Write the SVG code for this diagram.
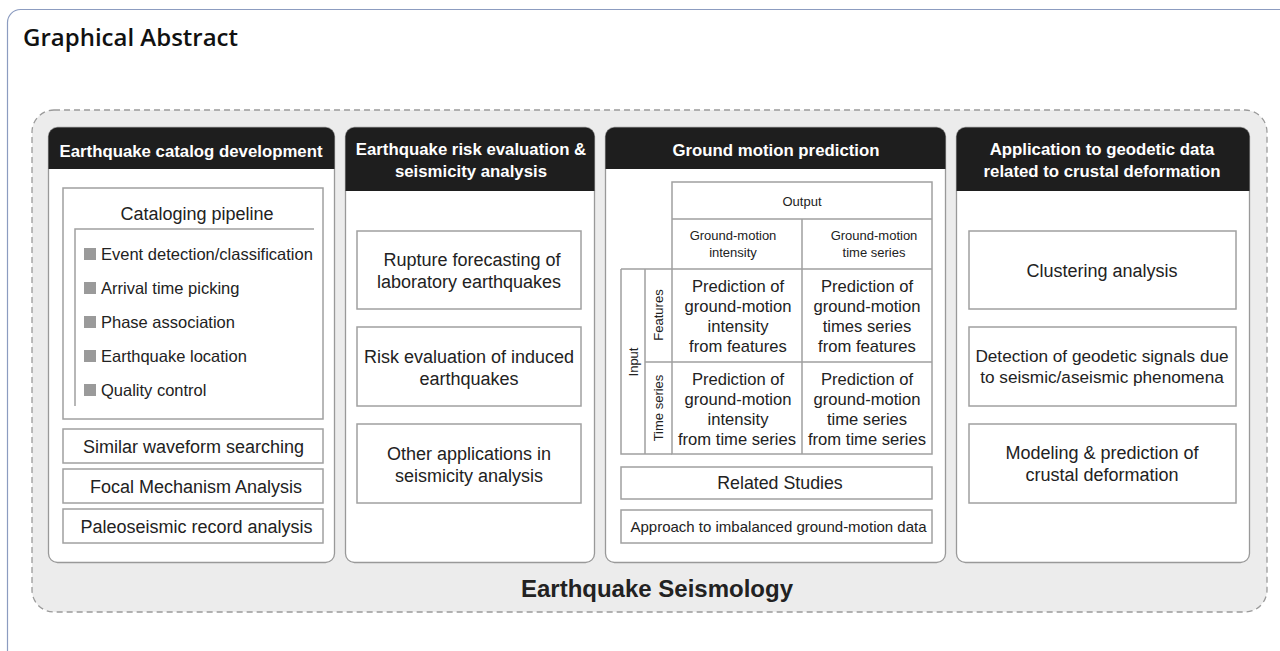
<svg xmlns="http://www.w3.org/2000/svg" width="1280" height="651" viewBox="0 0 1280 651">
<style>
.t{font-family:"Liberation Sans",Arial,sans-serif;fill:#222;}
.h{font-family:"Liberation Sans",Arial,sans-serif;fill:#fff;font-weight:bold;font-size:16.8px;}
.box{fill:#fff;stroke:#a0a0a0;stroke-width:1.5;}
.col{fill:#fff;stroke:#999;stroke-width:1.3;}
.hd{fill:#1e1e1e;}
.sq{fill:#9a9a9a;}
.ln{stroke:#a0a0a0;stroke-width:1.5;fill:none;}
</style>
<rect width="1280" height="651" fill="#fff"/>
<rect x="7.5" y="9.5" width="1290" height="660" rx="13" fill="#fff" stroke="#8c9cc0" stroke-width="1.2"/>
<text x="23" y="46" font-family="'Open Sans',sans-serif" font-weight="600" font-size="24" fill="#111">Graphical Abstract</text>
<rect x="32" y="110" width="1235" height="502" rx="22" fill="#ececec" stroke="#9a9a9a" stroke-width="1.3" stroke-dasharray="6,4"/>

<g id="col1">
<rect class="col" x="48.5" y="127.5" width="286" height="435" rx="9"/>
<path class="hd" d="M48.5,169 V136.5 a9,9 0 0 1 9,-9 H325.5 a9,9 0 0 1 9,9 V169 Z"/>
<text class="h" x="191" y="157" text-anchor="middle" font-size="17">Earthquake catalog development</text>
<rect class="box" x="63" y="188" width="260" height="231"/>
<text class="t" x="197" y="220" font-size="18" text-anchor="middle">Cataloging pipeline</text>
<path class="ln" d="M314,229 H75 V406"/>
<g font-size="16.5">
<rect class="sq" x="84" y="248" width="12" height="12"/><text class="t" x="101" y="260">Event detection/classification</text>
<rect class="sq" x="84" y="282" width="12" height="12"/><text class="t" x="101" y="294">Arrival time picking</text>
<rect class="sq" x="84" y="316" width="12" height="12"/><text class="t" x="101" y="328">Phase association</text>
<rect class="sq" x="84" y="350" width="12" height="12"/><text class="t" x="101" y="362">Earthquake location</text>
<rect class="sq" x="84" y="384" width="12" height="12"/><text class="t" x="101" y="396">Quality control</text>
</g>
<rect class="box" x="63" y="429" width="260" height="34"/>
<text class="t" x="193.5" y="453" font-size="18" text-anchor="middle">Similar waveform searching</text>
<rect class="box" x="63" y="469" width="260" height="34"/>
<text class="t" x="196" y="493" font-size="18" text-anchor="middle">Focal Mechanism Analysis</text>
<rect class="box" x="63" y="509" width="260" height="34"/>
<text class="t" x="196.5" y="533" font-size="18" text-anchor="middle">Paleoseismic record analysis</text>
</g>

<g id="col2">
<rect class="col" x="345.5" y="127.5" width="249" height="435" rx="9"/>
<path class="hd" d="M345.5,191 V136.5 a9,9 0 0 1 9,-9 H585.5 a9,9 0 0 1 9,9 V191 Z"/>
<text class="h" x="471" y="155" text-anchor="middle">Earthquake risk evaluation &amp;</text>
<text class="h" x="471" y="177" text-anchor="middle">seismicity analysis</text>
<rect class="box" x="357" y="231" width="224" height="78"/>
<text class="t" x="472" y="266" font-size="18" text-anchor="middle">Rupture forecasting of</text>
<text class="t" x="469" y="288" font-size="18" text-anchor="middle">laboratory earthquakes</text>
<rect class="box" x="357" y="327" width="224" height="79"/>
<text class="t" x="469" y="363" font-size="18" text-anchor="middle">Risk evaluation of induced</text>
<text class="t" x="469" y="385" font-size="18" text-anchor="middle">earthquakes</text>
<rect class="box" x="357" y="424" width="224" height="79"/>
<text class="t" x="469" y="460" font-size="18" text-anchor="middle">Other applications in</text>
<text class="t" x="469" y="482" font-size="18" text-anchor="middle">seismicity analysis</text>
</g>

<g id="col3">
<rect class="col" x="605.5" y="127.5" width="340" height="435" rx="9"/>
<path class="hd" d="M605.5,169 V136.5 a9,9 0 0 1 9,-9 H936.5 a9,9 0 0 1 9,9 V169 Z"/>
<text class="h" x="776" y="156" text-anchor="middle" font-size="17">Ground motion prediction</text>
<rect class="box" x="672" y="182" width="260" height="272"/>
<path class="ln" d="M672,219 H932 M802,219 V454 M621,269 H932 M645,362 H932 M621,269 V454 H672 M645,269 V454"/>
<text class="t" x="802" y="206" font-size="13" text-anchor="middle">Output</text>
<text class="t" x="733" y="240" font-size="13" text-anchor="middle">Ground-motion</text>
<text class="t" x="733" y="257" font-size="13" text-anchor="middle">intensity</text>
<text class="t" x="874" y="240" font-size="13" text-anchor="middle">Ground-motion</text>
<text class="t" x="874" y="257" font-size="13" text-anchor="middle">time series</text>
<text class="t" font-size="13" text-anchor="middle" transform="translate(637.5,362) rotate(-90)">Input</text>
<text class="t" font-size="13" text-anchor="middle" transform="translate(663,315) rotate(-90)">Features</text>
<text class="t" font-size="13" text-anchor="middle" transform="translate(663,408) rotate(-90)">Time series</text>
<g font-size="16.6" text-anchor="middle">
<text class="t" x="738" y="292">Prediction of</text>
<text class="t" x="738" y="312">ground-motion</text>
<text class="t" x="738" y="332">intensity</text>
<text class="t" x="738" y="352">from features</text>
<text class="t" x="867" y="292">Prediction of</text>
<text class="t" x="867" y="312">ground-motion</text>
<text class="t" x="867" y="332">times series</text>
<text class="t" x="867" y="352">from features</text>
<text class="t" x="738" y="385">Prediction of</text>
<text class="t" x="738" y="405">ground-motion</text>
<text class="t" x="738" y="425">intensity</text>
<text class="t" x="737" y="445">from time series</text>
<text class="t" x="867" y="385">Prediction of</text>
<text class="t" x="867" y="405">ground-motion</text>
<text class="t" x="867" y="425">time series</text>
<text class="t" x="867" y="445">from time series</text>
</g>
<rect class="box" x="621" y="467" width="311" height="32"/>
<text class="t" x="780" y="489" font-size="17.8" text-anchor="middle">Related Studies</text>
<rect class="box" x="621" y="510" width="311" height="33"/>
<text class="t" x="778.5" y="532" font-size="15" text-anchor="middle">Approach to imbalanced ground-motion data</text>
</g>

<g id="col4">
<rect class="col" x="956.5" y="127.5" width="293" height="435" rx="9"/>
<path class="hd" d="M956.5,191 V136.5 a9,9 0 0 1 9,-9 H1240.5 a9,9 0 0 1 9,9 V191 Z"/>
<text class="h" x="1102" y="155" text-anchor="middle">Application to geodetic data</text>
<text class="h" x="1102" y="177" text-anchor="middle">related to crustal deformation</text>
<rect class="box" x="969" y="231" width="267" height="78"/>
<text class="t" x="1102" y="277" font-size="18" text-anchor="middle">Clustering analysis</text>
<rect class="box" x="969" y="327" width="267" height="79"/>
<text class="t" x="1102" y="362" font-size="17.2" text-anchor="middle">Detection of geodetic signals due</text>
<text class="t" x="1102" y="383" font-size="17.2" text-anchor="middle">to seismic/aseismic phenomena</text>
<rect class="box" x="969" y="424" width="267" height="79"/>
<text class="t" x="1102" y="459" font-size="18" text-anchor="middle">Modeling &amp; prediction of</text>
<text class="t" x="1102" y="481" font-size="18" text-anchor="middle">crustal deformation</text>
</g>

<text x="657" y="597" font-family="'Liberation Sans',Arial,sans-serif" font-weight="bold" font-size="24" fill="#222" text-anchor="middle">Earthquake Seismology</text>
<g id="connectors"/>
</svg>
